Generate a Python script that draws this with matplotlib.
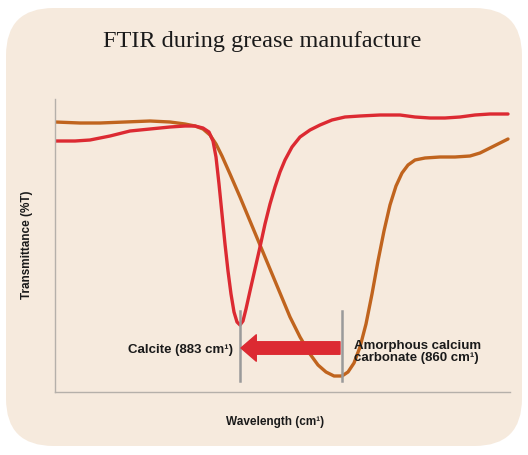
import matplotlib

matplotlib.use("Agg")
import matplotlib.pyplot as plt
from matplotlib.patches import FancyBboxPatch

BEIGE = "#f6eadd"
ORANGE = "#c0641e"
RED = "#dc2a32"
GREY = "#9a9a9a"
INK = "#1a1a1a"

# curves (horizontal position, transmittance in picture units)
orange_x = [55, 80, 100, 125, 150, 170, 185, 195, 203, 210, 216, 222, 230, 240, 250, 260, 270, 280,
            290, 300, 310, 318, 326, 334, 342, 348, 354, 360, 366, 372, 378, 384, 390, 396, 402,
            408, 415, 425, 440, 455, 470, 480, 490, 500, 508]
orange_y = [123, 124, 124, 123, 122, 123, 125, 127, 130, 136, 145, 157, 175, 198, 222, 246, 270, 294,
            318, 338, 355, 366, 373, 377, 377, 373, 364, 348, 325, 295, 262, 232, 206, 187, 174,
            166, 161, 159, 158, 158, 157, 154, 149, 144, 140]
red_x = [55, 75, 90, 110, 130, 150, 170, 185, 195, 203, 209, 213, 216, 219, 222, 225, 228, 231, 234,
         237, 240, 243, 246, 250, 255, 260, 265, 270, 275, 280, 285, 292, 300, 310, 320, 332, 345,
         360, 380, 400, 415, 430, 445, 460, 475, 490, 508]
red_y = [142, 142, 141, 137, 132, 130, 128, 127, 127, 129, 133, 142, 158, 185, 215, 245, 272, 295, 313,
         323, 326, 322, 310, 292, 270, 248, 225, 205, 188, 173, 161, 148, 138, 131, 126, 121, 118,
         117, 116, 116, 118, 119, 119, 118, 116, 115, 115]

calcite_x = 240
amorphous_x = 342

fig = plt.figure(figsize=(5.28, 4.56), dpi=100)
fig.patch.set_facecolor("white")
bg = FancyBboxPatch((6 / 528, 9 / 456), 516 / 528, 438 / 456,
                    boxstyle="round,pad=0,rounding_size=0.09",
                    transform=fig.transFigure, facecolor=BEIGE, edgecolor="none",
                    mutation_aspect=528 / 456, zorder=-5)
fig.patches.append(bg)

ax = fig.add_axes([55 / 528, (456 - 393) / 456, 455 / 528, 293 / 456])
ax.set_facecolor("none")
ax.set_xlim(55, 510)
ax.set_ylim(393, 100)

ax.plot(orange_x, orange_y, color=ORANGE, linewidth=2.4, solid_capstyle="round", solid_joinstyle="round")
ax.plot(red_x, red_y, color=RED, linewidth=2.4, solid_capstyle="round", solid_joinstyle="round")

for x in (calcite_x, amorphous_x):
    ax.plot([x, x], [312, 382], color=GREY, linewidth=1.8, zorder=3)

ax.annotate("", xy=(calcite_x + 1, 349), xytext=(amorphous_x - 2, 349),
            arrowprops=dict(arrowstyle="simple,head_length=1.1,head_width=1.9,tail_width=0.9",
                            color=RED, shrinkA=0, shrinkB=0), zorder=4)

ax.text(233, 350, "Calcite (883 cm¹)", ha="right", va="center", fontsize=9.5,
        fontweight="bold", family="Liberation Sans", color=INK)
ax.text(354, 352, "Amorphous calcium\ncarbonate (860 cm¹)", ha="left", va="center",
        fontsize=9.5, fontweight="bold", family="Liberation Sans", color=INK, linespacing=1.0)

for s in ("top", "right"):
    ax.spines[s].set_visible(False)
for s in ("left", "bottom"):
    ax.spines[s].set_color("#b5b0aa")
    ax.spines[s].set_linewidth(1)
ax.set_xticks([])
ax.set_yticks([])

fig.text(262 / 528, 1 - 42 / 456, "FTIR during grease manufacture", ha="center", va="center",
         fontsize=17.5, family="Liberation Serif", color=INK)
fig.text(275 / 528, 1 - 422 / 456, "Wavelength (cm¹)", ha="center", va="center",
         fontsize=8.5, fontweight="bold", family="Liberation Sans", color=INK)
fig.text(27 / 528, 1 - 245 / 456, "Transmittance (%T)", ha="center", va="center", rotation=90,
         fontsize=8.5, fontweight="bold", family="Liberation Sans", color=INK)

fig.savefig("out.png", dpi=100, facecolor="white")
